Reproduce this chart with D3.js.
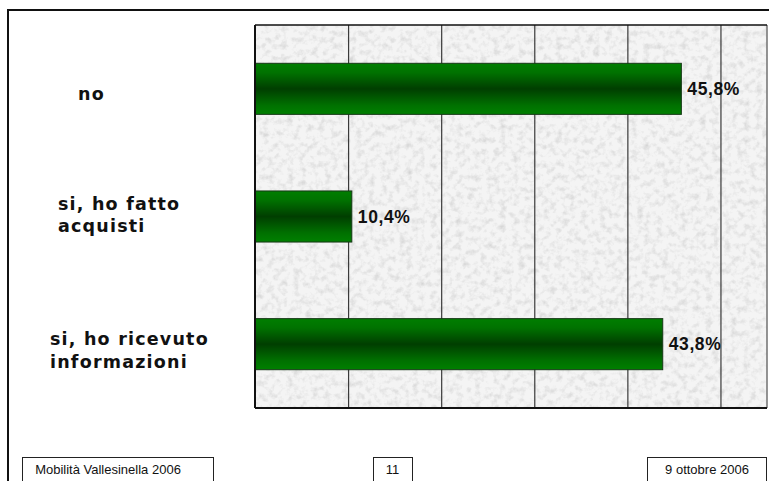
<!DOCTYPE html>
<html>
<head>
<meta charset="utf-8">
<script src="https://cdn.jsdelivr.net/npm/d3@7"></script>
<style>
  html, body { margin: 0; padding: 0; background: #ffffff; }
  svg { display: block; }
</style>
</head>
<body>
<svg id="chart" width="769" height="481"></svg>
<script>
// ---- data ----
const categories = ["no", "si, ho fatto acquisti", "si, ho ricevuto informazioni"];
const categoryLines = [["no"], ["si, ho fatto", "acquisti"], ["si, ho ricevuto", "informazioni"]];
const values = [45.8, 10.4, 43.8];
const valueLabels = ["45,8%", "10,4%", "43,8%"];
const xTicks = [0, 10, 20, 30, 40, 50];
const xMax = 55;
const footerTexts = ["Mobilità Vallesinella 2006", "11", "9 ottobre 2006"];

// ---- layout (not data) ----
const W = 769, H = 481;
const plot = { left: 255, right: 767, top: 25, bottom: 408 };
const labelX = [78, 58, 50];
const labelDy = [11, -7, 1];
const lineH = 22.5;
const footerBoxes = [[22, 213], [373, 412], [647, 766]];
const footerTextX = [108, 392.5, 707];
const footerTop = 457;

const svg = d3.select("#chart");
const defs = svg.append("defs");

// marble-like texture
const f = defs.append("filter").attr("id", "marble")
  .attr("filterUnits", "objectBoundingBox")
  .attr("x", 0).attr("y", 0).attr("width", 1).attr("height", 1);
f.append("feTurbulence").attr("type", "fractalNoise")
  .attr("baseFrequency", "0.16").attr("numOctaves", 3).attr("seed", 11).attr("result", "n");
f.append("feColorMatrix").attr("in", "n").attr("type", "matrix")
  .attr("values", "0 0 0 0 0.62  0 0 0 0 0.62  0 0 0 0 0.62  1.6 0 0 0 -0.72");

const grad = defs.append("linearGradient").attr("id", "barGrad")
  .attr("x1", 0).attr("y1", 0).attr("x2", 0).attr("y2", 1);
[[0, "#007e00"], [0.18, "#007200"], [0.5, "#003e00"], [0.82, "#007000"], [1, "#008000"]]
  .forEach(([o, c]) => grad.append("stop").attr("offset", o).attr("stop-color", c));

// scales
const x = d3.scaleLinear().domain([0, xMax]).range([plot.left, plot.right]);
const y = d3.scaleBand().domain(categories).range([plot.top, plot.bottom])
  .paddingInner(0.6).paddingOuter(0.3);

// page frame lines
svg.append("line").attr("x1", 8).attr("x2", W).attr("y1", 10).attr("y2", 10)
  .attr("stroke", "#111").attr("stroke-width", 2);
svg.append("line").attr("x1", 8).attr("x2", 8).attr("y1", 9).attr("y2", H)
  .attr("stroke", "#111").attr("stroke-width", 2);

// plot background
svg.append("rect").attr("x", plot.left).attr("y", plot.top)
  .attr("width", plot.right - plot.left).attr("height", plot.bottom - plot.top)
  .attr("fill", "#f4f4f4");
svg.append("rect").attr("x", plot.left).attr("y", plot.top)
  .attr("width", plot.right - plot.left).attr("height", plot.bottom - plot.top)
  .attr("fill", "#fff").attr("filter", "url(#marble)");

// gridlines via axis
const gridAxis = d3.axisBottom(x).tickValues(xTicks.slice(1))
  .tickSize(-(plot.bottom - plot.top)).tickFormat("");
const gg = svg.append("g").attr("transform", `translate(0,${plot.bottom})`).call(gridAxis);
gg.select(".domain").remove();
gg.selectAll(".tick line").attr("stroke", "#3a3a3a").attr("stroke-width", 1.2);

// plot border
svg.append("line").attr("x1", plot.right).attr("x2", plot.right).attr("y1", plot.top).attr("y2", plot.bottom)
  .attr("stroke", "#707070").attr("stroke-width", 1.5);
svg.append("line").attr("x1", plot.left).attr("x2", plot.right).attr("y1", plot.top).attr("y2", plot.top)
  .attr("stroke", "#111").attr("stroke-width", 1.5);
svg.append("line").attr("x1", plot.left).attr("x2", plot.right).attr("y1", plot.bottom).attr("y2", plot.bottom)
  .attr("stroke", "#111").attr("stroke-width", 2);

// bars
svg.selectAll("rect.bar").data(values).join("rect").attr("class", "bar")
  .attr("x", x(0))
  .attr("y", (d, i) => y(categories[i]))
  .attr("width", d => x(d) - x(0))
  .attr("height", y.bandwidth())
  .attr("fill", "url(#barGrad)")
  .attr("stroke", "#163816").attr("stroke-width", 1);

svg.append("line").attr("x1", plot.left).attr("x2", plot.left).attr("y1", plot.top).attr("y2", plot.bottom)
  .attr("stroke", "#111").attr("stroke-width", 2);

// value labels
svg.selectAll("text.val").data(values).join("text").attr("class", "val")
  .attr("x", d => x(d) + 6)
  .attr("y", (d, i) => y(categories[i]) + y.bandwidth() / 2)
  .attr("dy", "0.36em")
  .attr("font-family", "'Liberation Sans', Arial, sans-serif")
  .attr("font-weight", "bold").attr("font-size", 17.5).attr("letter-spacing", 0.6)
  .attr("fill", "#111")
  .text((d, i) => valueLabels[i]);

// category labels
categories.forEach((c, i) => {
  const cy = y(c) + y.bandwidth() / 2 + labelDy[i];
  const t = svg.append("text")
    .attr("font-family", "'DejaVu Sans', Verdana, sans-serif")
    .attr("font-weight", "bold").attr("font-size", 17.5).attr("letter-spacing", 1.2)
    .attr("fill", "#111");
  categoryLines[i].forEach((ln, j) => {
    t.append("tspan").attr("x", labelX[i]).attr("y", cy + j * lineH).text(ln);
  });
});

// footer
footerTexts.forEach((txt, i) => {
  const [a, b] = footerBoxes[i];
  svg.append("rect").attr("x", a + 0.5).attr("y", footerTop + 0.5)
    .attr("width", b - a).attr("height", 40)
    .attr("fill", "#fff").attr("stroke", "#222").attr("stroke-width", 1);
  svg.append("text").attr("x", footerTextX[i]).attr("y", 474)
    .attr("text-anchor", "middle")
    .attr("font-family", "'Liberation Sans', Arial, sans-serif")
    .attr("font-size", 13).attr("fill", "#111")
    .text(txt);
});
</script>
</body>
</html>
